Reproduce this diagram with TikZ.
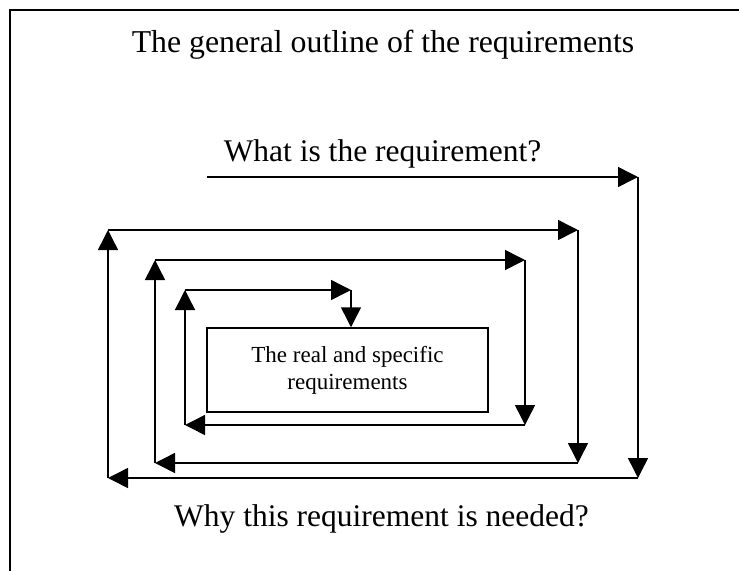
\documentclass[tikz,border=0pt]{standalone}
\usepackage{fontspec}
\setmainfont{Liberation Serif}
\usetikzlibrary{arrows.meta}
\tikzset{
  arr/.style={line width=1.5pt,-{Triangle[length=20pt,width=20pt]}},
  bigtext/.style={anchor=base,inner sep=0pt,font=\fontsize{31.5}{36}\selectfont},
  reqbox/.style={draw,line width=1.5pt,minimum width=281pt,minimum height=84pt,align=center,
    font=\fontsize{23}{27}\selectfont}
}

\begin{document}
\begin{tikzpicture}[x=1pt,y=-1pt]
\useasboundingbox (0,0) rectangle (739,571);
\draw[line width=2pt] (10,571) -- (10,10) -- (739,10);

	\node[bigtext,font=\fontsize{31.8}{36}\selectfont] (title) at (383,52) {The general outline of the requirements};
	\node[bigtext] (what) at (382.5,161) {What is the requirement?};
	\node[bigtext] (why) at (381.5,526) {Why this requirement is needed?};
	\node[reqbox] (box) at (347.5,370) {The real and specific\\requirements};

	\coordinate (1) at (207,177);
	\coordinate (2) at (638,177);
	\coordinate (3) at (638,478);
	\coordinate (4) at (108,478);
	\coordinate (5) at (108,230);
	\coordinate (6) at (578,230);
	\coordinate (7) at (578,463);
	\coordinate (8) at (155,463);
	\coordinate (9) at (155,260);
	\coordinate (10) at (525,260);
	\coordinate (11) at (525,425);
	\coordinate (12) at (185,425);
	\coordinate (13) at (185,290);
	\coordinate (14) at (351,290);
	\coordinate (15) at (14 |- box.north);

\draw[arr] (1) -- (2); \draw[arr] (2) -- (3); \draw[arr] (3) -- (4); \draw[arr] (4) -- (5); \draw[arr] (5) -- (6); \draw[arr] (6) -- (7); \draw[arr] (7) -- (8);
\draw[arr] (8) -- (9); \draw[arr] (9) -- (10); \draw[arr] (10) -- (11); \draw[arr] (11) -- (12); \draw[arr] (12) -- (13); \draw[arr] (13) -- (14); \draw[arr] (14) -- (15);

\end{tikzpicture}
\end{document}
